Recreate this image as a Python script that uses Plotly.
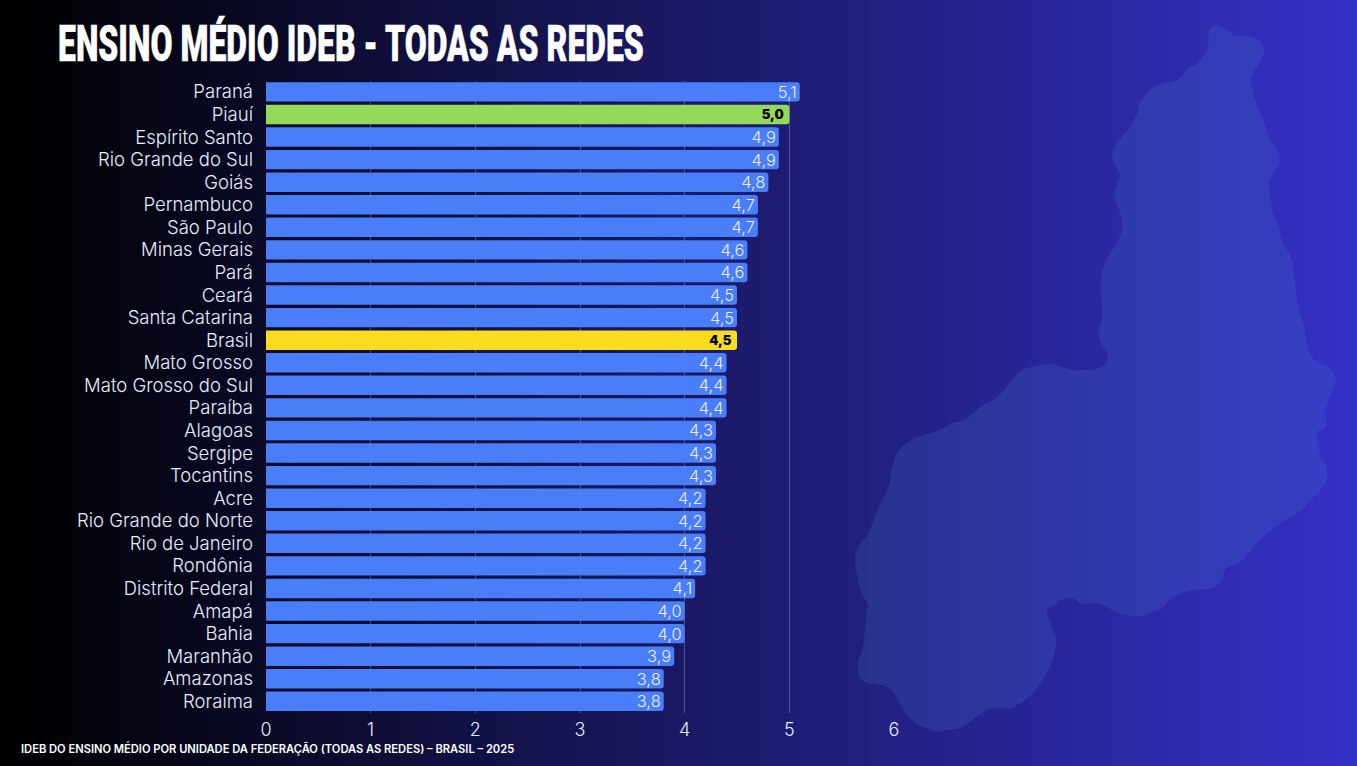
import plotly.graph_objects as go

W, H = 1357, 766

estados = ["Paraná", "Piauí", "Espírito Santo", "Rio Grande do Sul", "Goiás", "Pernambuco", "São Paulo",
           "Minas Gerais", "Pará", "Ceará", "Santa Catarina", "Brasil", "Mato Grosso", "Mato Grosso do Sul",
           "Paraíba", "Alagoas", "Sergipe", "Tocantins", "Acre", "Rio Grande do Norte", "Rio de Janeiro",
           "Rondônia", "Distrito Federal", "Amapá", "Bahia", "Maranhão", "Amazonas", "Roraima"]
ideb = [5.1, 5.0, 4.9, 4.9, 4.8, 4.7, 4.7, 4.6, 4.6, 4.5, 4.5, 4.5, 4.4, 4.4, 4.4, 4.3, 4.3, 4.3,
        4.2, 4.2, 4.2, 4.2, 4.1, 4.0, 4.0, 3.9, 3.8, 3.8]
titulo = "ENSINO MÉDIO IDEB - TODAS AS REDES"
rodape = "IDEB DO ENSINO MÉDIO POR UNIDADE DA FEDERAÇÃO (TODAS AS REDES) – BRASIL – 2025"

BLUE, GREEN, YELLOW = "#4a7df8", "#93da5a", "#fadc1e"
highlight = {"Piauí": GREEN, "Brasil": YELLOW}
colors = [highlight.get(e, BLUE) for e in estados]
lab_col = ["#000000" if e in highlight else "#e8edff" for e in estados]
lab_size = [13 if e in highlight else 16.5 for e in estados]
lab_wt = [900 if e in highlight else 300 for e in estados]
lab_tpl = ["%{x:.1f}\u00a0" if e in highlight else "%{x:.1f}" for e in estados]

# decorative background: black -> indigo gradient, built from strips reaching the right edge
shapes = []
STEPS = 136
for i in range(STEPS):
    t = i / (STEPS - 1)
    c = f"rgb({round(52*t)},{round(49*t)},{round(198*t)})"
    shapes.append(dict(type="rect", xref="paper", yref="paper", x0=i / STEPS, x1=1, y0=0, y1=1,
                       fillcolor=c, line_width=0, layer="below"))

# decorative map silhouette, traced in pixels
z4a = [(495,68),(520,85),(555,108),(600,108),(630,122),(648,150),(625,195),(598,235),(610,275),(622,325),(640,355),
       (655,415),(680,445),(692,480),(680,510),(655,540),(658,580),(668,640),(685,670),(698,735),(725,765),(735,850),
       (745,930),(765,985),(770,1040),(790,1085),(840,1100),(862,1130)]
z5 = [(1495,120),(1470,180),(1480,215),(1475,235),(1442,240),(1458,295),(1452,318),(1480,340),(1478,400),(1430,445),
      (1395,485),(1350,505),(1315,535),(1270,572),(1228,632),(1172,648),(1172,680),(1135,715),(1095,708),(1015,735),
      (985,775),(950,780),(935,795),(850,785),(810,750),(745,758),(725,735),(685,742),(665,765),(640,768),(660,825),
      (675,860),(670,900),(650,955),(610,1018),(555,1060),(525,1068),(480,1062),(425,1098),(395,1125),(345,1132),
      (315,1138),(240,1105),(205,1050),(180,998),(85,990),(80,930),(100,890),(107,780),(115,755),(90,725),(72,625),
      (80,585),(115,550),(135,490),(155,445),(175,410),(192,305),(245,262),(330,238),(370,212),(400,212),(455,160),
      (503,142),(560,60),(600,50),(660,38),(710,58),(760,62),(820,52),(830,10)]
z4b = [(150,1030),(145,985),(160,950),(150,860),(160,790),(200,730),(220,690),(210,630),(192,600),(195,565),(212,530),
       (205,510),(185,480),(190,440),(215,410),(250,370),(265,330),(265,310),(315,250),(385,245),(410,205),(440,195),
       (478,140),(472,95)]
pts = [(1050 + x / 3, y / 3) for x, y in z4a] + \
      [(830 + x / 2.975, 350 + y / 2.975) for x, y in z5] + \
      [(1050 + x / 3, y / 3) for x, y in z4b]
def P(p):
    return f"{p[0] / W:.5f} {1 - p[1] / H:.5f}"
n = len(pts)
mid = lambda a, b: ((a[0] + b[0]) / 2, (a[1] + b[1]) / 2)
d = "M " + P(mid(pts[-1], pts[0]))
for i in range(n):
    d += f" Q {P(pts[i])} {P(mid(pts[i], pts[(i + 1) % n]))}"
d += " Z"
shapes.append(dict(type="path", xref="paper", yref="paper", path=d, fillcolor="rgba(70,120,200,0.22)",
                   line_width=0, layer="below"))

fig = go.Figure(go.Bar(
    x=ideb, y=estados, orientation="h",
    marker=dict(color=colors, line_width=0, cornerradius=3),
    texttemplate=lab_tpl, textposition="inside", insidetextanchor="end", textangle=0,
    textfont=dict(color=lab_col, size=lab_size, weight=lab_wt, family="Inter"),
    constraintext="none", hoverinfo="skip", width=0.86,
))

fig.update_layout(
    width=W, height=H, autosize=False, margin=dict(l=0, r=0, t=0, b=0, pad=0),
    paper_bgcolor="#000000", plot_bgcolor="rgba(0,0,0,0)", separators=",.",
    showlegend=False, shapes=shapes, font=dict(family="Inter", color="#e8edff"),
    xaxis=dict(domain=[266 / W, 894 / W], range=[0, 6], tick0=0, dtick=1, showgrid=True, zeroline=False,
               automargin=False, gridcolor="rgba(255,255,255,0.25)", gridwidth=1, ticks="", showline=False,
               tickfont=dict(size=18, color="#e8edff", weight=300), ticklabelstandoff=4),
    yaxis=dict(domain=[1 - 712.6 / H, 1 - 80.6 / H], autorange="reversed", type="category", showgrid=False,
               automargin=False, zeroline=False, ticks="", showline=False,
               tickfont=dict(size=18.5, color="#e8edff", weight=300), ticklabelstandoff=12),
    title=dict(text=titulo, x=58 / W, y=1 - 44 / H, xanchor="left", yanchor="middle", xref="paper", yref="paper",
               font=dict(family="Roboto", size=50, color="#ffffff", weight=900)),
    annotations=[dict(text=rodape, xref="paper", yref="paper", x=19 / W, y=1 - 748 / H, xanchor="left",
                      yanchor="middle", showarrow=False, font=dict(size=11.15, color="#ffffff", weight=600))],
)

# The reference title is a very condensed display face that is not installed: squeeze real text to the same width.
post = """
document.body.style.margin='0';
var gd=document.getElementById('{plot_id}');
function squeeze(){
  var t=gd.querySelector('.gtitle'); if(!t) return;
  var x0=58, target=586;
  t.removeAttribute('transform');
  var w=t.getBBox().width, left=t.getBBox().x;
  var s=target/w;
  t.setAttribute('transform','translate('+x0+',0) scale('+s+',1) translate('+(-left)+',0)');
  t.style.stroke='#ffffff'; t.style.strokeWidth='0.5px';
}
squeeze(); setTimeout(squeeze,100);
"""
fig.write_html("out.html", post_script=post, config={"displayModeBar": False})
